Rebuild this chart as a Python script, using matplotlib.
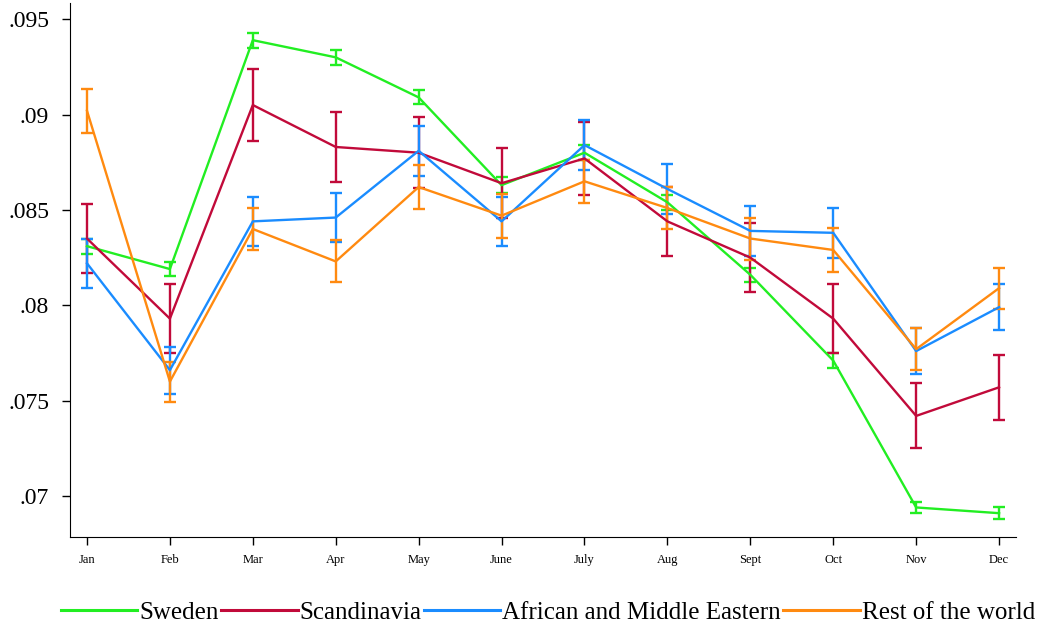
import matplotlib.pyplot as plt
from matplotlib.lines import Line2D

months = ["Jan", "Feb", "Mar", "Apr", "May", "June", "July", "Aug", "Sept", "Oct", "Nov", "Dec"]

sweden = [0.0831, 0.0819, 0.0939, 0.0930, 0.0909, 0.0863, 0.0880, 0.0854, 0.0816, 0.0771, 0.0694, 0.0691]
sweden_err = [0.0004, 0.00037, 0.0004, 0.0004, 0.00037, 0.0004, 0.0004, 0.0004, 0.00037, 0.0004, 0.0003, 0.0003]

scandinavia = [0.0835, 0.0793, 0.0905, 0.0883, 0.0880, 0.0864, 0.0877, 0.0844, 0.0825, 0.0793, 0.0742, 0.0757]
scandinavia_err = [0.0018, 0.0018, 0.0019, 0.00186, 0.00185, 0.00184, 0.0019, 0.0018, 0.0018, 0.0018, 0.0017, 0.0017]

african = [0.0822, 0.0766, 0.0844, 0.0846, 0.0881, 0.0844, 0.0884, 0.0861, 0.0839, 0.0838, 0.0776, 0.0799]
african_err = [0.0013, 0.00123, 0.0013, 0.0013, 0.0013, 0.0013, 0.0013, 0.0013, 0.0013, 0.0013, 0.0012, 0.0012]

rest = [0.0902, 0.0760, 0.0840, 0.0823, 0.0862, 0.0847, 0.0865, 0.0851, 0.0835, 0.0829, 0.0777, 0.0809]
rest_err = [0.00115, 0.00105, 0.0011, 0.0011, 0.00113, 0.00115, 0.00113, 0.0011, 0.0011, 0.00113, 0.0011, 0.00107]

names = ["Sweden", "Scandinavia", "African and Middle Eastern", "Rest of the world"]
colors = ["#22ee22", "#c10a3a", "#1a8cff", "#ff8a10"]

plt.rcParams['font.family'] = ['Liberation Serif', 'DejaVu Serif']

fig = plt.figure(figsize=(10.4, 6.35), dpi=100)
ax = fig.add_axes([0.0673, 0.1543, 0.9097, 0.8407])

x = list(range(1, 13))
series = [(sweden, sweden_err), (scandinavia, scandinavia_err), (african, african_err), (rest, rest_err)]
for (vals, errs), c in zip(series, colors):
    ax.errorbar(x, vals, yerr=errs, color=c, linewidth=1.7, elinewidth=1.7,
                capsize=4, capthick=1.7)

ax.set_xlim(0.795, 12.205)
ax.set_ylim(0.06785, 0.09584)
ax.set_xticks(x)
ax.set_xticklabels(months, fontsize=9)
ax.set_yticks([0.07, 0.075, 0.08, 0.085, 0.09, 0.095])
ax.set_yticklabels([".07", ".075", ".08", ".085", ".09", ".095"], fontsize=17)
ax.spines['top'].set_visible(False)
ax.spines['right'].set_visible(False)
ax.tick_params(axis='both', length=6, width=1)
ax.tick_params(axis='x', pad=6)
ax.tick_params(axis='y', pad=9)

handles = [Line2D([0], [0], color=c, linewidth=2.2) for c in colors]
fig.legend(handles, names, loc='center', bbox_to_anchor=(0.527, 0.035), ncol=4,
           frameon=False, fontsize=18, handlelength=3.05, handletextpad=0.08,
           columnspacing=0.1)

fig.savefig("out.png", dpi=100)
